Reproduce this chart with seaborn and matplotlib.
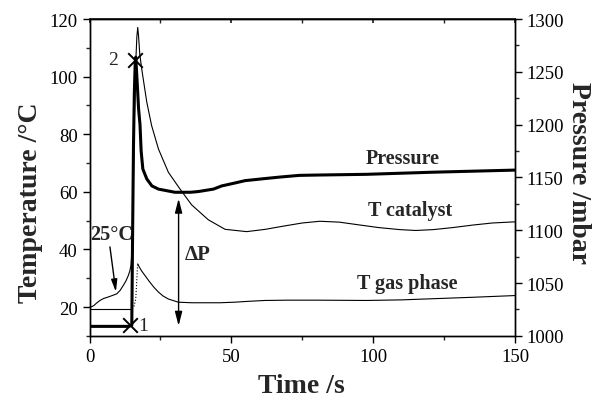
import matplotlib
matplotlib.use("Agg")
import matplotlib.pyplot as plt
import seaborn as sns
import numpy as np
from matplotlib.ticker import MultipleLocator

# ---------------- data ----------------
p_time = [0, 13.8, 14.9, 15.2, 15.5, 15.8, 16.1, 16.3, 16.8, 17.3, 17.8, 18.2, 18.8, 20.2,
          22, 24.3, 30.1, 35.6, 38.4, 43.7, 46.6, 50.8, 54.8, 61.9, 67.5, 74, 80, 97.7, 121, 150]
p_mbar = [1009, 1009, 1010, 1100, 1180, 1230, 1258, 1264, 1240, 1215, 1200, 1175, 1158, 1148.6,
          1142, 1139, 1136, 1136, 1136.7, 1139, 1142, 1144.5, 1147, 1149, 1150.5, 1152, 1152.3,
          1153, 1155, 1157]

cat_time = [0, 1.5, 2.5, 3.7, 5, 6.6, 8, 9.6, 10.8, 11.9, 12.8, 13.7, 14.2, 14.6, 15.0, 15.4,
            15.8, 16.3, 16.7, 17.0, 17.3, 17.7, 18.4, 20.2, 21.9, 24.3, 27.8, 31.9, 36, 41.9,
            47.8, 55.4, 62, 68.3, 75, 81.2, 88, 95.3, 102, 109.4, 115, 121.2, 128, 135.3, 142, 150]
cat_temp = [19.8, 20.5, 21.4, 22.3, 23, 23.5, 24, 24.6, 25.8, 27.5, 29, 31, 32.5, 34.4, 40, 60,
            85, 105, 114, 117.1, 114, 108, 102.7, 91.1, 83, 74.9, 66.8, 61, 55.5, 50.3,
            47, 46.2, 47, 48.1, 49.2, 49.8, 49.5, 48.5, 47.6, 46.9, 46.6, 46.9, 47.6, 48.5, 49.2, 49.6]

gas_flat_time = [0, 15.0]
gas_flat_temp = [19.4, 19.4]
gas_rise_time = [15.0, 15.8, 16.3, 16.6, 16.8, 17.0]
gas_rise_temp = [19.4, 20.5, 23, 28, 32, 35]
gas_decay_time = [17.0, 17.5, 18.4, 19.6, 21, 22.6, 24.3, 26, 27.8, 31.3, 36, 41.9, 46,
                  51.3, 56, 61.9, 70, 80, 97.7, 110, 121, 135, 150]
gas_decay_temp = [35, 34, 32.5, 30.9, 29, 27, 25.2, 23.8, 22.8, 21.7, 21.5, 21.5, 21.5,
                  21.7, 22, 22.3, 22.4, 22.4, 22.3, 22.5, 22.9, 23.4, 24]

marker_time = [14.3, 16.1]
marker_mbar = [1010, 1261]
marker_labels = ["1", "2"]

# ---------------- style ----------------
sns.set_theme(style="ticks")
plt.rcParams['font.family'] = ['Liberation Serif', 'DejaVu Serif']

fig = plt.figure(figsize=(5.94, 4.02), dpi=100)
ax = fig.add_axes([0.1507, 0.162, 0.7163, 0.788])
ax2 = ax.twinx()

thin = dict(color='black', linewidth=0.8)
sns.lineplot(x=cat_time, y=cat_temp, ax=ax, estimator=None, sort=False, **thin)
sns.lineplot(x=gas_flat_time, y=gas_flat_temp, ax=ax, estimator=None, sort=False, **thin)
sns.lineplot(x=gas_rise_time, y=gas_rise_temp, ax=ax, estimator=None, sort=False,
             linestyle=':', **thin)
sns.lineplot(x=gas_decay_time, y=gas_decay_temp, ax=ax, estimator=None, sort=False, **thin)
sns.lineplot(x=p_time, y=p_mbar, ax=ax2, estimator=None, sort=False, color='black', linewidth=2.2)
sns.scatterplot(x=marker_time, y=marker_mbar, ax=ax2, marker='x', s=110, color='black',
                linewidth=1.4, zorder=5)

ax.set_xlim(0, 150)
ax.set_ylim(10, 120)
ax2.set_ylim(1000, 1300)

tick_fs = 13.5
ax.xaxis.set_major_locator(MultipleLocator(50))
ax.xaxis.set_minor_locator(MultipleLocator(25))
ax.yaxis.set_major_locator(MultipleLocator(20))
ax.yaxis.set_minor_locator(MultipleLocator(10))
ax2.yaxis.set_major_locator(MultipleLocator(50))
ax2.yaxis.set_minor_locator(MultipleLocator(25))
for a in (ax, ax2):
    a.tick_params(which='major', direction='out', length=5, width=1, labelsize=tick_fs,
                  colors='black')
    a.tick_params(which='minor', direction='out', length=3, width=1)
    for s in a.spines.values():
        s.set_linewidth(1.0)
        s.set_color('black')
    a.grid(False)

top = ax.secondary_xaxis('top')
top.xaxis.set_major_locator(MultipleLocator(50))
top.xaxis.set_minor_locator(MultipleLocator(25))
top.tick_params(which='both', direction='in', length=3, labeltop=False)
top.set_xticklabels([])

lab_fs = 20
ax.set_xlabel("Time /s", fontsize=lab_fs, fontweight='bold')
ax.set_ylabel("Temperature /°C", fontsize=lab_fs, fontweight='bold')
ax2.set_ylabel("Pressure /mbar", fontsize=lab_fs, fontweight='bold', rotation=-90)
ax.xaxis.set_label_coords(0.497, -0.118)
ax.yaxis.set_label_coords(-0.109, 0.423)
ax2.yaxis.set_label_coords(1.178, 0.517)

# curve labels
cl_fs = 14.5
ax.text(110.5, 71.8, "Pressure", fontsize=cl_fs, fontweight='bold', ha='center', va='center')
ax.text(113, 53.7, "T catalyst", fontsize=cl_fs, fontweight='bold', ha='center', va='center')
ax.text(112, 28.4, "T gas phase", fontsize=cl_fs, fontweight='bold', ha='center', va='center')

# marker numbers
ax2.text(18.9, 1010, marker_labels[0], fontsize=14, ha='center', va='center')
ax2.text(8.3, 1262, marker_labels[1], fontsize=14, ha='center', va='center')

# delta P arrow
ax2.annotate('', xy=(31.4, 1130), xytext=(31.4, 1009.5),
             arrowprops=dict(arrowstyle='<|-|>,head_length=0.7,head_width=0.18',
                             color='black', lw=1.0, shrinkA=0, shrinkB=0))
ax.text(38, 38.5, "ΔP", fontsize=15, fontweight='bold', ha='center', va='center')

# 25 °C arrow
ax.annotate('', xy=(9.3, 25.3), xytext=(7.2, 40.9),
            arrowprops=dict(arrowstyle='-|>,head_length=0.6,head_width=0.15',
                            color='black', lw=1.0, shrinkA=0, shrinkB=0))
ax.text(7.8, 45.5, "25°C", fontsize=14.5, fontweight='bold', ha='center', va='center')

fig.savefig("out.png", dpi=100)
